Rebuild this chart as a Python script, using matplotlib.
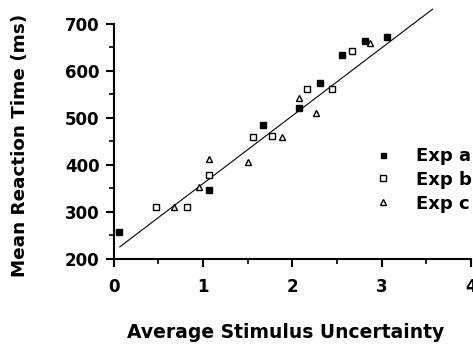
import matplotlib
matplotlib.use("Agg")
import matplotlib.pyplot as plt
import numpy as np

# Exp a (filled squares)
a_x = [0.06, 1.07, 1.67, 2.07, 2.31, 2.56, 2.81, 3.06]
a_y = [257, 346, 485, 520, 575, 635, 663, 672]
# Exp b (open squares)
b_x = [0.47, 0.82, 1.07, 1.56, 1.77, 2.17, 2.45, 2.67]
b_y = [311, 311, 378, 460, 461, 562, 562, 642]
# Exp c (open triangles)
c_x = [0.68, 0.96, 1.07, 1.51, 1.88, 2.07, 2.27, 2.87]
c_y = [311, 353, 412, 405, 460, 542, 511, 660]
# regression line
fit_x = [0.07, 3.57]
fit_intercept = 215
fit_slope = 144.7

labels = ["Exp a", "Exp b", "Exp c"]
xticks = [0, 1, 2, 3, 4]
yticks = [200, 300, 400, 500, 600, 700]

plt.rcParams['font.family'] = ['DejaVu Sans']
plt.rcParams['font.weight'] = 'bold'

fig = plt.figure(figsize=(4.73, 3.47), dpi=100)
ax = fig.add_axes([113.5/473, 88.3/347, (471-113.5)/473, (258.7-24)/347])

fx = np.array(fit_x)
ax.plot(fx, fit_intercept + fit_slope*fx, color='black', lw=0.8, clip_on=False, zorder=1)

ax.plot(a_x, a_y, linestyle='none', marker='s', ms=4.5, mfc='black', mec='black', mew=1, label=labels[0], clip_on=False, zorder=3)
ax.plot(b_x, b_y, linestyle='none', marker='s', ms=5, mfc='white', mec='black', mew=1, label=labels[1], clip_on=False, zorder=3)
ax.plot(c_x, c_y, linestyle='none', marker='^', ms=5, mfc='white', mec='black', mew=1, label=labels[2], clip_on=False, zorder=3)

ax.set_xlim(0, 4)
ax.set_ylim(200, 700)
ax.set_xticks(xticks)
ax.set_yticks(yticks)
ax.set_xticks([0.5, 1.5, 2.5, 3.5], minor=True)
ax.set_yticks([250, 350, 450, 550, 650], minor=True)
ax.tick_params(axis='both', which='major', direction='out', length=6, width=1.5, labelsize=12, pad=4)
ax.tick_params(axis='both', which='minor', direction='out', length=3.5, width=1.2)
for lab in ax.get_xticklabels() + ax.get_yticklabels():
    lab.set_fontweight('bold')
ax.tick_params(axis='x', pad=8)

for s in ['top', 'right']:
    ax.spines[s].set_visible(False)
for s in ['left', 'bottom']:
    ax.spines[s].set_linewidth(1.5)

fig.text(20/473, 1 - 145/347, "Mean Reaction Time (ms)", rotation=90, ha='center', va='center',
         fontsize=13.2, fontweight='bold')
fig.text(127/473, 1 - 332/347, "Average Stimulus Uncertainty", ha='left', va='center',
         fontsize=13.5, fontweight='bold')

leg = ax.legend(loc='upper left', bbox_to_anchor=(373/473, 1 - 147/347), bbox_transform=fig.transFigure,
                frameon=False, fontsize=13, markerscale=0.8, handlelength=1.1, handletextpad=1.3,
                labelspacing=0.32, borderaxespad=0, borderpad=0)
for t in leg.get_texts():
    t.set_fontweight('bold')

fig.savefig("out.png", dpi=100)
